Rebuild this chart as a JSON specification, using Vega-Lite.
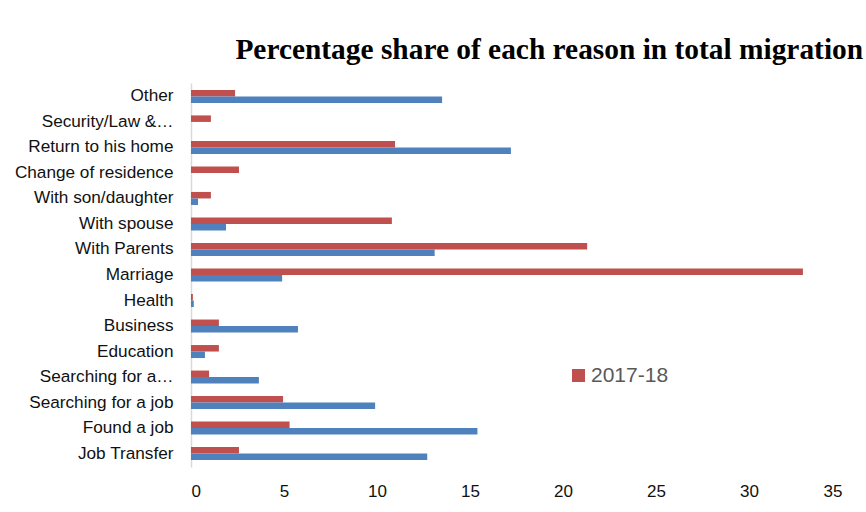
{
  "$schema": "https://vega.github.io/schema/vega-lite/v6.json",
  "width": 651,
  "height": 384,
  "autosize": "none",
  "padding": {"left": 191, "top": 83, "right": 24, "bottom": 45},
  "background": "white",
  "config": {"view": {"stroke": null}},
  "title": {
    "text": "Percentage share of each reason in total migration",
    "font": "Liberation Serif",
    "fontSize": 29.4,
    "fontWeight": "bold",
    "color": "black",
    "anchor": "start",
    "dx": 221,
    "offset": 18
  },
  "data": {
    "values": [
      {"reason": "Other", "year": "2017-18", "value": 2.37},
      {"reason": "Other", "year": "2007-08", "value": 13.5},
      {"reason": "Security/Law &…", "year": "2017-18", "value": 1.07},
      {"reason": "Security/Law &…", "year": "2007-08", "value": 0},
      {"reason": "Return to his home", "year": "2017-18", "value": 10.97},
      {"reason": "Return to his home", "year": "2007-08", "value": 17.2},
      {"reason": "Change of residence", "year": "2017-18", "value": 2.58},
      {"reason": "Change of residence", "year": "2007-08", "value": 0},
      {"reason": "With son/daughter", "year": "2017-18", "value": 1.07},
      {"reason": "With son/daughter", "year": "2007-08", "value": 0.38},
      {"reason": "With spouse", "year": "2017-18", "value": 10.8},
      {"reason": "With spouse", "year": "2007-08", "value": 1.88},
      {"reason": "With Parents", "year": "2017-18", "value": 21.3},
      {"reason": "With Parents", "year": "2007-08", "value": 13.1},
      {"reason": "Marriage", "year": "2017-18", "value": 32.9},
      {"reason": "Marriage", "year": "2007-08", "value": 4.9},
      {"reason": "Health", "year": "2017-18", "value": 0.1},
      {"reason": "Health", "year": "2007-08", "value": 0.15},
      {"reason": "Business", "year": "2017-18", "value": 1.5},
      {"reason": "Business", "year": "2007-08", "value": 5.75},
      {"reason": "Education", "year": "2017-18", "value": 1.5},
      {"reason": "Education", "year": "2007-08", "value": 0.75},
      {"reason": "Searching for a…", "year": "2017-18", "value": 0.97},
      {"reason": "Searching for a…", "year": "2007-08", "value": 3.65},
      {"reason": "Searching for a job", "year": "2017-18", "value": 4.95},
      {"reason": "Searching for a job", "year": "2007-08", "value": 9.9},
      {"reason": "Found a job", "year": "2017-18", "value": 5.3},
      {"reason": "Found a job", "year": "2007-08", "value": 15.4},
      {"reason": "Job Transfer", "year": "2017-18", "value": 2.58},
      {"reason": "Job Transfer", "year": "2007-08", "value": 12.7}
    ]
  },
  "mark": {"type": "bar"},
  "encoding": {
    "y": {
      "field": "reason",
      "type": "nominal",
      "sort": ["Other", "Security/Law &…", "Return to his home", "Change of residence", "With son/daughter", "With spouse", "With Parents", "Marriage", "Health", "Business", "Education", "Searching for a…", "Searching for a job", "Found a job", "Job Transfer"],
      "scale": {"paddingInner": 0.49, "paddingOuter": 0.27},
      "axis": {
        "title": null,
        "ticks": false,
        "grid": false,
        "domain": true,
        "domainColor": "#D9D9D9",
        "domainWidth": 1.5,
        "labelFont": "Liberation Sans",
        "labelFontSize": 17.2,
        "labelColor": "#111111",
        "labelPadding": 18,
        "labelLimit": 300
      }
    },
    "yOffset": {"field": "year", "sort": ["2017-18", "2007-08"]},
    "x": {
      "field": "value",
      "type": "quantitative",
      "scale": {"domain": [0, 35], "nice": false},
      "axis": {
        "title": null,
        "values": [0, 5, 10, 15, 20, 25, 30, 35],
        "grid": false,
        "domain": false,
        "ticks": false,
        "labelFont": "Liberation Sans",
        "labelFontSize": 17,
        "labelColor": "#111111",
        "labelPadding": 16
      }
    },
    "color": {
      "field": "year",
      "type": "nominal",
      "scale": {"domain": ["2017-18", "2007-08"], "range": ["#C0504D", "#4F81BD"]},
      "legend": {
        "values": ["2017-18"],
        "orient": "none",
        "legendX": 377,
        "legendY": 282,
        "title": null,
        "symbolType": "square",
        "symbolSize": 169,
        "symbolStrokeWidth": 0,
        "labelFont": "Liberation Sans",
        "labelFontSize": 21,
        "labelColor": "#595959",
        "labelOffset": 2
      }
    }
  }
}
